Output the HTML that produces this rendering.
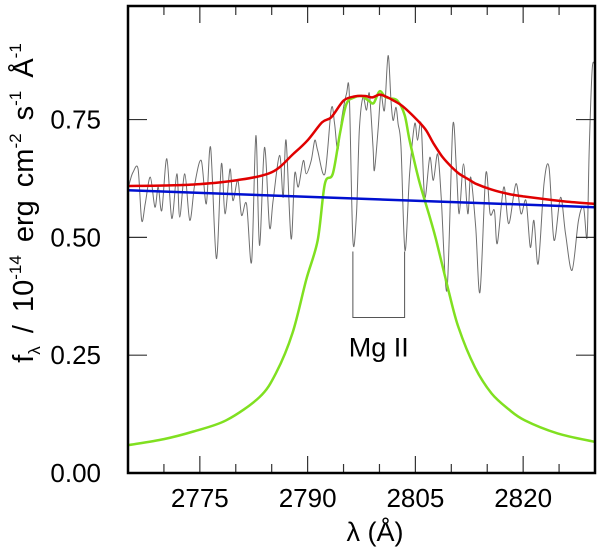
<!DOCTYPE html>
<html><head><meta charset="utf-8">
<style>
html,body{margin:0;padding:0;background:#fff;}
svg{display:block;font-family:"Liberation Sans",Arial,sans-serif;}
</style></head>
<body>
<svg id="chart" width="600" height="553" viewBox="0 0 600 553" xmlns="http://www.w3.org/2000/svg">
  <g id="marks"></g>
  <g id="axes"></g>
  <text x="375" y="541" font-size="27" text-anchor="middle">λ (Å)</text>
  <text transform="translate(33,203) rotate(-90)" font-size="29" word-spacing="5" text-anchor="middle">f<tspan font-size="17" dy="7">λ</tspan><tspan dy="-7"> / 10</tspan><tspan font-size="17" dy="-12">-14</tspan><tspan dy="12"> erg cm</tspan><tspan font-size="17" dy="-12">-2</tspan><tspan dy="12"> s</tspan><tspan font-size="17" dy="-12">-1</tspan><tspan dy="12"> Å</tspan><tspan font-size="17" dy="-12">-1</tspan></text>
</svg>
<script>
const xTicks = [2775, 2790, 2805, 2820];
const xMinor = [2770, 2780, 2785, 2795, 2800, 2810, 2815, 2825];
const yTicks = [0, 0.25, 0.5, 0.75];
const yTickLabels = ["0.00", "0.25", "0.50", "0.75"];
const specWave = [2765.0,2765.3,2765.7,2766.4,2766.9,2767.4,2768.1,2768.75,2769.2,2769.7,2770.4,2771.1,2771.8,2772.2,2772.9,2773.6,2774.3,2775.2,2775.9,2776.5,2777.3,2778.0,2778.5,2779.2,2779.6,2780.3,2780.8,2781.5,2782.2,2782.8,2783.3,2784.0,2784.7,2785.2,2786.1,2786.6,2787.0,2787.7,2788.2,2788.7,2789.4,2789.8,2790.5,2791.0,2791.4,2792.4,2793.3,2793.75,2794.2,2794.7,2795.4,2795.8,2796.3,2796.8,2797.2,2797.7,2798.2,2798.6,2799.1,2799.3,2799.8,2800.2,2800.7,2801.2,2801.6,2801.9,2802.3,2802.6,2803.0,2803.55,2804.2,2804.9,2805.3,2805.8,2806.3,2807.0,2807.5,2808.1,2808.6,2809.4,2810.2,2810.7,2811.1,2811.7,2812.3,2812.7,2813.4,2814.0,2814.8,2815.4,2816.0,2816.4,2817.3,2818.0,2819.0,2819.7,2820.4,2821.0,2821.5,2822.1,2822.9,2823.6,2824.3,2825.2,2825.9,2826.8,2827.7,2828.4,2828.9,2829.2,2829.6,2829.9];
const specFlux = [0.600,0.621,0.638,0.645,0.536,0.571,0.628,0.564,0.607,0.557,0.667,0.540,0.635,0.543,0.635,0.536,0.614,0.663,0.571,0.691,0.455,0.656,0.550,0.645,0.578,0.621,0.547,0.571,0.448,0.716,0.483,0.691,0.522,0.578,0.674,0.585,0.706,0.497,0.635,0.607,0.663,0.635,0.663,0.706,0.684,0.635,0.773,0.741,0.684,0.748,0.804,0.804,0.494,0.550,0.727,0.797,0.770,0.805,0.692,0.642,0.727,0.805,0.770,0.886,0.790,0.748,0.776,0.741,0.692,0.472,0.635,0.741,0.706,0.741,0.585,0.670,0.621,0.677,0.585,0.388,0.734,0.649,0.550,0.656,0.550,0.628,0.522,0.384,0.635,0.550,0.557,0.487,0.607,0.529,0.614,0.550,0.578,0.479,0.536,0.444,0.614,0.649,0.494,0.585,0.508,0.430,0.536,0.564,0.501,0.692,0.854,0.870];
const fitWave = [2765,2770,2775,2780,2785,2788,2790,2792,2793.3,2795,2796.5,2798,2799,2800,2801,2802,2803,2804.2,2805.5,2806.5,2807.5,2808.8,2810,2811.1,2812.3,2813.4,2815.5,2818,2820,2822.6,2826,2830];
const fitFlux = [0.609,0.610,0.613,0.621,0.638,0.677,0.706,0.744,0.755,0.790,0.799,0.800,0.797,0.803,0.798,0.790,0.781,0.765,0.745,0.727,0.700,0.670,0.650,0.635,0.624,0.614,0.602,0.592,0.587,0.582,0.576,0.571];
const contWave = [2765, 2830];
const contFlux = [0.600, 0.564];
const lineWave = [2765,2770,2774.1,2778.7,2783.3,2785.6,2787.9,2789.8,2791.4,2792.4,2793.5,2794.5,2795.4,2796.5,2797.5,2798.5,2799.2,2800,2800.8,2801.5,2802.5,2803.5,2804.2,2805.5,2807,2807.9,2809.6,2811,2813.3,2815.6,2818,2820.2,2824.8,2830];
const lineFlux = [0.059,0.072,0.088,0.112,0.161,0.212,0.297,0.410,0.494,0.614,0.635,0.720,0.783,0.797,0.800,0.790,0.785,0.810,0.798,0.795,0.790,0.760,0.706,0.621,0.543,0.494,0.388,0.309,0.224,0.169,0.135,0.112,0.084,0.066];
const mgWave = [2796.3, 2803.5];
const mgTop = 0.47, mgBottom = 0.33;

const X0 = 128, X1 = 595, Y0 = 473, Y1 = 6;
const xMin = 2765, xMax = 2830, yMin = 0, yMax = 0.991;
const sx = v => X0 + (v - xMin) / (xMax - xMin) * (X1 - X0);
const sy = v => Y0 - (v - yMin) / (yMax - yMin) * (Y0 - Y1);
const NS = "http://www.w3.org/2000/svg";
const marks = document.getElementById('marks');
const axes = document.getElementById('axes');
function mk(tag, attrs, parent) {
  const e = document.createElementNS(NS, tag);
  for (const k in attrs) e.setAttribute(k, attrs[k]);
  parent.appendChild(e);
  return e;
}
function smooth(w, f, t) {
  const p = w.map((x, i) => [sx(x), sy(f[i])]);
  let d = 'M' + p[0][0].toFixed(1) + ',' + p[0][1].toFixed(1);
  for (let i = 0; i < p.length - 1; i++) {
    const p0 = p[Math.max(0, i - 1)], p1 = p[i], p2 = p[i + 1], p3 = p[Math.min(p.length - 1, i + 2)];
    const c1x = p1[0] + (p2[0] - p0[0]) * t, c1y = p1[1] + (p2[1] - p0[1]) * t;
    const c2x = p2[0] - (p3[0] - p1[0]) * t, c2y = p2[1] - (p3[1] - p1[1]) * t;
    d += ' C' + c1x.toFixed(1) + ',' + c1y.toFixed(1) + ' ' + c2x.toFixed(1) + ',' + c2y.toFixed(1) + ' ' + p2[0].toFixed(1) + ',' + p2[1].toFixed(1);
  }
  return d;
}

const clip = mk('clipPath', {id: 'pc'}, marks);
mk('rect', {x: X0, y: Y1, width: X1 - X0, height: Y0 - Y1}, clip);
const g = mk('g', {'clip-path': 'url(#pc)'}, marks);

const spec = mk('path', {d: smooth(specWave, specFlux, 0.16), fill: 'none', stroke: '#6e6e6e', 'stroke-width': 1}, g);


const line = mk('path', {d: smooth(lineWave, lineFlux, 0.16), fill: 'none', stroke: '#80e020', 'stroke-width': 2.5, 'stroke-linejoin': 'round'}, g);


const cont = mk('path', {d: smooth(contWave, contFlux, 0), fill: 'none', stroke: '#0010d0', 'stroke-width': 2.5}, g);


const fit = mk('path', {d: smooth(fitWave, fitFlux, 0.16), fill: 'none', stroke: '#e00000', 'stroke-width': 2.5, 'stroke-linejoin': 'round'}, g);



const mg = mk('polyline', {points: `${sx(mgWave[0])},${sy(mgTop)} ${sx(mgWave[0])},${sy(mgBottom)} ${sx(mgWave[1])},${sy(mgBottom)} ${sx(mgWave[1])},${sy(mgTop)}`, fill: 'none', stroke: '#555', 'stroke-width': 1}, marks);


const mgl = mk('text', {x: (sx(mgWave[0]) + sx(mgWave[1])) / 2, y: sy(mgBottom) + 39, 'font-size': 27, 'text-anchor': 'middle'}, marks);
mgl.textContent = 'Mg II';



xTicks.forEach(v => {
  const x = sx(v);
  const t = mk('line', {x1: x, x2: x, y1: Y0, y2: Y0 - 17, stroke: '#333', 'stroke-width': 1.2}, axes);
  
  
  mk('line', {x1: x, x2: x, y1: Y1, y2: Y1 + 17, stroke: '#333', 'stroke-width': 1.2}, axes);
  const l = mk('text', {x: x, y: 507, 'font-size': 26, 'text-anchor': 'middle'}, axes);
  l.textContent = String(v);
  
  
});
xMinor.forEach(v => {
  const x = sx(v);
  mk('line', {x1: x, x2: x, y1: Y0, y2: Y0 - 9, stroke: '#333', 'stroke-width': 1.2}, axes);
  mk('line', {x1: x, x2: x, y1: Y1, y2: Y1 + 9, stroke: '#333', 'stroke-width': 1.2}, axes);
});
yTicks.forEach((v, i) => {
  const y = sy(v);
  const t = mk('line', {x1: X0, x2: X0 + 19, y1: y, y2: y, stroke: '#333', 'stroke-width': 1.2}, axes);
  
  
  mk('line', {x1: X1 - 19, x2: X1, y1: y, y2: y, stroke: '#333', 'stroke-width': 1.2}, axes);
  const l = mk('text', {x: 101, y: y + 9, 'font-size': 26, 'text-anchor': 'end'}, axes);
  l.textContent = yTickLabels[i];
  
  
});
const frame = mk('rect', {x: X0, y: Y1, width: X1 - X0, height: Y0 - Y1, fill: 'none', stroke: '#000', 'stroke-width': 2.5}, axes);


</script>
</body></html>
